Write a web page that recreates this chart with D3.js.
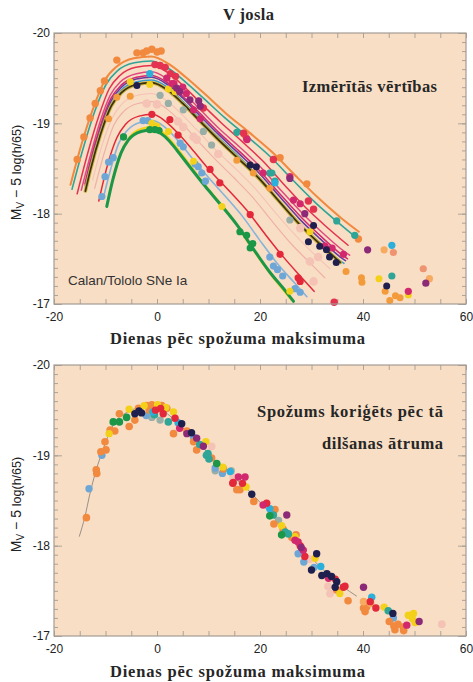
<!DOCTYPE html>
<html>
<head>
<meta charset="utf-8">
<script src="https://cdn.jsdelivr.net/npm/d3@7"></script>
<style>
  body { margin: 0; background: #ffffff; }
  svg { display: block; }
</style>
</head>
<body>
<svg id="chart" width="473" height="682"></svg>
<script>
// ---------------- axis values ----------------
const dayTicks = [-20, 0, 20, 40, 60];
const magTicks = [-20, -19, -18, -17];

// ---------------- template light curve (lower panel) ----------------
const templateDays = [-15.1, -14, -13, -12, -11, -10, -9, -8, -6, -4, -2, 0, 2, 4, 6, 8, 10, 12, 14, 16, 18, 20, 22, 24, 26, 28, 30, 32, 34, 36, 38.8];
const templateMags = [-18.10, -18.32, -18.58, -18.80, -18.98, -19.14, -19.28, -19.38, -19.47, -19.52, -19.54, -19.53, -19.46, -19.36, -19.25, -19.14, -19.02, -18.91, -18.80, -18.70, -18.60, -18.48, -18.36, -18.22, -18.10, -17.97, -17.86, -17.75, -17.64, -17.55, -17.44];

// ---------------- fitted light curves (upper panel), [day, mag] ----------------
const fitOrange = [[-16.8,-18.32],[-14.6,-18.78],[-12.3,-19.18],[-10.1,-19.48],[-7.8,-19.63],[-4.5,-19.72],[-1.1,-19.74],[2.2,-19.66],[5.6,-19.51],[9.0,-19.34],[13.4,-19.11],[17.9,-18.90],[22.4,-18.68],[26.9,-18.42],[31.4,-18.17],[35.8,-17.95],[39.2,-17.80]];
const fitTeal = [[-16.5,-18.27],[-14.3,-18.73],[-12.1,-19.13],[-9.9,-19.43],[-7.7,-19.58],[-4.4,-19.67],[-1.1,-19.69],[2.2,-19.61],[5.5,-19.46],[8.8,-19.29],[13.2,-19.06],[17.6,-18.85],[22.0,-18.63],[26.4,-18.37],[30.8,-18.12],[35.2,-17.90],[39.0,-17.72]];
const fitCrimson = [[-15.5,-18.22],[-13.4,-18.68],[-11.3,-19.08],[-9.3,-19.38],[-7.2,-19.53],[-4.1,-19.62],[-1.0,-19.64],[2.1,-19.56],[5.2,-19.41],[8.2,-19.24],[12.4,-19.01],[16.5,-18.80],[20.6,-18.58],[24.7,-18.32],[28.8,-18.07],[33.0,-17.85],[37.1,-17.65]];
const fitRose = [[-14.7,-18.26],[-13.1,-18.61],[-11.1,-19.01],[-9.1,-19.31],[-7.1,-19.46],[-4.0,-19.55],[-1.0,-19.57],[2.0,-19.49],[5.1,-19.34],[8.1,-19.17],[12.1,-18.94],[16.2,-18.73],[20.2,-18.51],[24.2,-18.25],[28.3,-18.00],[32.3,-17.78],[36.4,-17.58],[37.4,-17.54]];
const fitMagenta = [[-14.0,-18.33],[-13.0,-18.57],[-11.0,-18.97],[-9.0,-19.27],[-7.0,-19.42],[-4.0,-19.51],[-1.0,-19.53],[2.0,-19.45],[5.0,-19.30],[8.0,-19.13],[12.0,-18.90],[16.0,-18.69],[20.0,-18.47],[24.0,-18.21],[28.0,-17.96],[32.0,-17.74],[36.0,-17.54],[37.0,-17.50]];
const fitPurple = [[-13.9,-18.31],[-12.9,-18.55],[-10.9,-18.95],[-8.9,-19.25],[-6.9,-19.40],[-4.0,-19.49],[-1.0,-19.51],[2.0,-19.43],[5.0,-19.28],[7.9,-19.11],[11.9,-18.88],[15.8,-18.67],[19.8,-18.45],[23.8,-18.19],[27.7,-17.94],[31.7,-17.72],[35.6,-17.52],[36.6,-17.48]];
const fitBlue = [[-13.2,-18.40],[-12.7,-18.52],[-10.8,-18.92],[-8.8,-19.22],[-6.9,-19.37],[-3.9,-19.46],[-1.0,-19.48],[2.0,-19.40],[4.9,-19.25],[7.8,-19.08],[11.8,-18.85],[15.7,-18.64],[19.6,-18.42],[23.5,-18.16],[27.4,-17.91],[31.4,-17.69],[35.3,-17.49],[36.3,-17.45]];
const fitDark = [[-13.9,-18.25],[-12.9,-18.49],[-10.9,-18.89],[-8.9,-19.19],[-6.9,-19.34],[-4.0,-19.43],[-1.0,-19.45],[2.0,-19.37],[5.0,-19.22],[7.9,-19.05],[11.9,-18.82],[15.8,-18.61],[19.8,-18.39],[23.8,-18.13],[27.7,-17.88],[31.7,-17.66],[35.6,-17.46]];
const fitPale = [[-12.5,-18.37],[-10.6,-18.77],[-8.6,-19.07],[-6.7,-19.22],[-3.8,-19.31],[-1.0,-19.33],[1.9,-19.25],[4.8,-19.10],[7.7,-18.93],[11.5,-18.70],[15.4,-18.49],[19.2,-18.27],[23.0,-18.01],[26.9,-17.76],[30.7,-17.54],[33.6,-17.39]];
const fitPink = [[-12.1,-18.28],[-10.2,-18.68],[-8.4,-18.98],[-6.5,-19.13],[-3.7,-19.22],[-0.9,-19.24],[1.9,-19.16],[4.7,-19.01],[7.4,-18.84],[11.2,-18.61],[14.9,-18.40],[18.6,-18.18],[22.3,-17.92],[26.0,-17.67],[29.8,-17.45],[32.6,-17.29]];
const fitRed = [[-11.3,-18.14],[-9.6,-18.54],[-7.8,-18.84],[-6.1,-18.99],[-3.5,-19.08],[-0.9,-19.10],[1.7,-19.02],[4.4,-18.87],[7.0,-18.70],[10.4,-18.47],[13.9,-18.26],[17.4,-18.04],[20.9,-17.78],[24.4,-17.53],[27.8,-17.31],[30.5,-17.14]];
const fitLightBlue = [[-10.4,-18.18],[-9.1,-18.47],[-7.5,-18.77],[-5.8,-18.92],[-3.3,-19.01],[-0.8,-19.03],[1.7,-18.95],[4.2,-18.80],[6.6,-18.63],[10.0,-18.40],[13.3,-18.19],[16.6,-17.97],[19.9,-17.71],[23.2,-17.46],[26.6,-17.24],[29.1,-17.08]];
const fitYellow = [[-8.4,-18.40],[-6.8,-18.70],[-5.3,-18.85],[-3.0,-18.94],[-0.8,-18.96],[1.5,-18.88],[3.8,-18.73],[6.1,-18.56],[9.1,-18.33],[12.2,-18.12],[15.2,-17.90],[18.2,-17.64],[21.3,-17.39],[24.3,-17.17],[26.2,-17.04]];
const fitGreen = [[-9.75,-18.08],[-8.6,-18.37],[-7.0,-18.67],[-5.5,-18.82],[-3.1,-18.91],[-0.8,-18.93],[1.6,-18.85],[3.9,-18.70],[6.2,-18.53],[9.4,-18.30],[12.5,-18.09],[15.6,-17.87],[18.7,-17.61],[21.8,-17.36],[25.0,-17.14],[26.5,-17.03]];

// ---------------- observations, upper panel (measured) ----------------
const topOrange = [[-15.5,-18.60],[-14.2,-18.85],[-13.0,-19.06],[-12.0,-19.22],[-11.0,-19.36],[-10.2,-19.47],[-7.8,-19.70],[-3.9,-19.78],[-2.7,-19.78],[-2.0,-19.80],[-1.0,-19.82],[0.0,-19.79],[0.8,-19.80],[17.1,-18.87],[23.9,-18.62],[29.1,-18.33],[39.1,-17.72]];
const topGold = [[-7.8,-19.29],[-5.2,-19.30],[-9.4,-19.05],[15.5,-18.59],[18.7,-18.45],[21.9,-18.28],[36.7,-17.36],[39.7,-17.29],[39.8,-17.24],[44.3,-17.14],[45.2,-17.04],[46.3,-17.09],[47.2,-17.07]];
const topLtOrange = [[44.1,-17.60],[52.9,-17.28]];
const topSalmon = [[45.9,-17.57],[51.7,-17.39]];
const topTeal = [[15.5,-18.90],[21.9,-18.45],[22.3,-18.45],[22.9,-18.36],[34.9,-17.92],[38.4,-17.76],[45.6,-17.31]];
const topCrimson = [[-0.4,-19.65],[0.6,-19.64],[1.6,-19.62],[2.6,-19.55],[3.6,-19.52],[9.0,-19.17],[16.8,-18.89],[17.4,-18.83],[22.6,-18.60],[29.4,-18.14],[30.4,-18.05],[34.4,-17.02]];
const topMagenta = [[1.9,-19.50],[2.9,-19.44],[3.3,-19.44],[4.3,-19.37],[5.0,-19.40],[5.7,-19.33],[7.1,-19.15],[8.4,-19.05],[17.5,-18.82],[20.6,-18.45],[25.8,-18.41],[26.5,-18.15],[27.8,-18.11],[32.6,-17.64],[34.0,-17.62],[36.2,-17.55],[48.8,-17.14]];
const topPurple = [[3.8,-19.39],[4.4,-19.35],[6.4,-19.26],[8.1,-19.25],[8.4,-19.19],[25.8,-18.39],[28.7,-18.00],[40.9,-17.60],[52.2,-17.23]];
const topCyan = [[-1.4,-19.55],[22.9,-18.34],[45.6,-17.65]];
const topNavy = [[-3.9,-19.42],[18.1,-18.54],[19.3,-18.52],[30.4,-17.87],[29.4,-17.69],[31.6,-17.64],[32.9,-17.60],[33.5,-17.52],[34.8,-17.46],[44.6,-17.20]];
const topYellow = [[-5.2,-19.46],[-1.4,-19.43],[2.2,-19.38],[3.5,-19.35],[29.7,-17.80],[43.1,-17.28],[48.8,-17.10],[-1.0,-19.00],[0.0,-18.97],[2.2,-18.91],[7.1,-18.58],[12.6,-18.08],[25.8,-17.14]];
const topGray = [[0.6,-19.31],[2.2,-19.22],[5.1,-19.15],[9.0,-18.91],[10.6,-18.76],[25.8,-17.93]];
const topPale = [[-2.0,-19.22],[0.0,-19.21],[4.1,-19.02],[5.1,-18.96],[7.1,-18.85],[7.7,-18.82],[11.9,-18.66],[27.8,-17.84],[29.7,-17.47],[31.3,-17.52],[30.4,-17.25]];
const topRed = [[-1.0,-19.10],[2.5,-19.04],[4.1,-18.87],[10.3,-18.49],[12.2,-18.34],[18.1,-17.99],[23.9,-17.55],[27.4,-17.29],[27.8,-17.25]];
const topLightBlue = [[-10.7,-18.19],[-10.1,-18.41],[-9.4,-18.57],[-8.5,-18.62],[-6.5,-18.85],[-2.7,-19.03],[-1.8,-19.03],[4.5,-18.78],[5.1,-18.74],[7.4,-18.55],[8.0,-18.52],[8.7,-18.45],[9.4,-18.36],[21.9,-17.52],[22.6,-17.42],[23.4,-17.38],[24.4,-17.31],[26.8,-17.17],[27.8,-17.13]];
const topGreen = [[-6.5,-18.85],[-1.4,-18.93],[-0.4,-18.93],[0.4,-18.92],[16.1,-17.80],[17.4,-17.76],[18.1,-17.62],[18.6,-17.67]];

// ---------------- observations, lower panel (decline-rate corrected) ----------------
const botOrange = [[-13.7,-18.31],[-11.8,-18.84],[-11.7,-18.80],[-10.9,-19.04],[-10.1,-19.15],[-9.9,-19.06],[-9.1,-19.28],[-8.2,-19.27],[-7.3,-19.46],[-5.4,-19.32],[-4.3,-19.39],[-3.6,-19.52],[-2.0,-19.55],[-1.5,-19.50],[-1.0,-19.56],[-0.5,-19.53],[0.5,-19.52],[0.9,-19.55],[1.9,-19.52],[3.2,-19.24],[5.8,-19.27],[7.1,-19.15],[7.7,-19.06],[10.6,-18.97],[12.9,-18.85],[15.5,-18.62],[16.1,-18.62],[18.8,-18.49],[22.9,-18.40],[22.7,-18.24],[24.5,-18.18],[26.2,-18.09],[27.0,-18.12],[34.9,-17.51],[37.1,-17.39],[40.1,-17.31],[40.4,-17.27],[40.7,-17.32],[45.1,-17.16],[46.0,-17.11],[46.8,-17.13],[46.2,-17.07],[47.8,-17.10],[47.9,-17.06]];
const botLtOrange = [[40.1,-17.38],[41.5,-17.36]];
const botYellow = [[-9.3,-19.24],[-5.4,-19.51],[-2.5,-19.55],[0.1,-19.56],[1.7,-19.53],[3.2,-19.48],[9.5,-19.15],[12.8,-18.87],[17.3,-18.65],[24.2,-18.22],[26.8,-18.10],[30.7,-17.86],[35.5,-17.47],[44.1,-17.32],[48.8,-17.23],[49.8,-17.25],[49.6,-17.19],[50.1,-17.15]];
const botGreen = [[-8.5,-19.37],[-7.3,-19.37],[-5.9,-19.42],[11.6,-18.91],[21.9,-18.33],[24.2,-18.12]];
const botNavy = [[-4.3,-19.46],[-3.5,-19.49],[-3.0,-19.47],[4.8,-19.35],[6.7,-19.25],[18.4,-18.57],[31.0,-17.91],[30.0,-17.73],[32.0,-17.67],[33.0,-17.69],[33.9,-17.66],[34.9,-17.60],[34.6,-17.54],[45.8,-17.25]];
const botBlue = [[-13.2,-18.63],[-10.7,-19.00],[-2.1,-19.44],[7.1,-19.20],[11.3,-18.86],[12.7,-18.80],[22.3,-18.38],[27.4,-17.91],[28.5,-17.82],[30.5,-17.76],[45.9,-17.20]];
const botCyan = [[-0.8,-19.48],[4.1,-19.36],[14.2,-18.82],[21.9,-18.41],[31.8,-17.77],[41.7,-17.43]];
const botTeal = [[-0.5,-19.45],[2.2,-19.37],[8.3,-19.12],[9.6,-19.00],[10.1,-18.96],[9.9,-19.02],[22.6,-18.34],[24.9,-18.15],[25.5,-18.13],[44.9,-17.28]];
const botMagenta = [[4.4,-19.30],[15.8,-18.76],[17.1,-18.76],[20.6,-18.45],[26.8,-18.06],[27.4,-18.04],[28.4,-17.95],[33.3,-17.64],[48.5,-17.12]];
const botPurple = [[5.8,-19.24],[7.7,-19.19],[9.0,-19.10],[25.2,-18.34],[28.0,-17.98],[40.1,-17.54],[50.9,-17.16]];
const botRed = [[-0.3,-19.50],[0.7,-19.52],[1.2,-19.46],[3.5,-19.41],[14.7,-18.69],[16.6,-18.69],[14.8,-18.70],[21.3,-18.47],[27.8,-18.00],[28.7,-17.88],[34.6,-17.63],[36.2,-17.54],[36.5,-17.55],[41.4,-17.38],[42.5,-17.31]];
const botPale = [[10.6,-19.10],[14.8,-18.76],[29.6,-17.85],[33.2,-17.55],[33.6,-17.47],[55.3,-17.13]];
const botGray = [[-1.0,-19.42],[0.6,-19.39],[11.3,-18.83],[14.4,-18.83],[23.6,-18.28]];

// ---------------- styling ----------------
const palette = {
  orange: "#f1893f", gold: "#f39a3b", ltorange: "#f6ab60", salmon: "#ee9470",
  teal: "#2ea597", cyan: "#2bb0dc", blue: "#6ea6d6", ltblue: "#86b3dc",
  navy: "#1f1f4e", purple: "#8c2a78", magenta: "#d2286e", crimson: "#e33350",
  rose: "#e04a80", red: "#e2283a", pale: "#f5c2b6", pink: "#f0b0a8",
  gray: "#98aea6", yellow: "#f3d11a", green: "#1c9747", indigo: "#6b3c9c",
  dark: "#3a3010", darkEdge: "#c9b13c"
};
const bgColor = "#f8dec4";
const frameColor = "#a49c94";

const fitLayers = [
  [fitPale, palette.pale, 1.1],
  [fitPink, palette.pink, 1.2],
  [fitOrange, palette.orange, 2],
  [fitTeal, palette.teal, 1.6],
  [fitCrimson, palette.crimson, 1.5],
  [fitRose, palette.rose, 1.5],
  [fitMagenta, palette.magenta, 1.5],
  [fitBlue, "#3a9ccc", 1.5],
  [fitPurple, palette.indigo, 1.6],
  [fitDark, palette.darkEdge, 3.6],
  [fitDark, palette.dark, 1.7],
  [fitRed, palette.red, 1.5],
  [fitLightBlue, palette.ltblue, 1.6],
  [fitYellow, palette.yellow, 2.2],
  [fitGreen, palette.green, 3]
];

const topGroups = [
  [topPale, palette.pale, 4.3], [topGray, palette.gray, 3.6], [topLightBlue, palette.blue, 3.6],
  [topGold, palette.gold, 3.5], [topLtOrange, palette.ltorange, 3.6], [topSalmon, palette.salmon, 3.6],
  [topOrange, palette.orange, 3.7], [topTeal, palette.teal, 3.6], [topCyan, palette.cyan, 3.6],
  [topYellow, palette.yellow, 3.5], [topRed, palette.red, 3.6], [topCrimson, palette.crimson, 3.7],
  [topMagenta, palette.magenta, 3.6], [topPurple, palette.purple, 3.6], [topNavy, palette.navy, 3.5],
  [topGreen, palette.green, 3.6]
];

const botGroups = [
  [botPale, palette.pale, 3.9], [botGray, palette.gray, 3.7], [botBlue, palette.blue, 3.7],
  [botOrange, palette.orange, 3.8], [botLtOrange, palette.ltorange, 3.8], [botYellow, palette.yellow, 3.7],
  [botTeal, palette.teal, 3.8], [botCyan, palette.cyan, 3.7], [botGreen, palette.green, 3.8],
  [botRed, palette.red, 3.7], [botMagenta, palette.magenta, 3.7], [botPurple, palette.purple, 3.7],
  [botNavy, palette.navy, 3.7]
];

// ---------------- drawing ----------------
const svg = d3.select("#chart");
const x = d3.scaleLinear().domain([-20, 60]).range([54, 466]);
const serif = "'Liberation Serif', 'Times New Roman', serif";
const sans = "'Liberation Sans', Arial, Helvetica, sans-serif";

// bold serif caption, stretched to the given width
function caption(parent, tx, ty, anchor, width, str) {
  return parent.append("text").attr("x", tx).attr("y", ty).attr("text-anchor", anchor)
    .attr("font-family", serif).attr("font-weight", "bold").attr("font-size", 16.5)
    .attr("fill", "#262626").attr("textLength", width).attr("lengthAdjust", "spacing")
    .text(str);
}

function drawPanel(top, bottom, groupsDraw) {
  const y = d3.scaleLinear().domain([-20, -17]).range([top, bottom]);
  const g = svg.append("g");
  g.append("rect").attr("x", 54).attr("y", top).attr("width", 412).attr("height", bottom - top).attr("fill", bgColor);

  const minorDays = d3.range(-20, 61, 5);
  const minorMags = d3.range(0, 31).map(i => -20 + i / 10);
  const tickStyle = sel => {
    sel.select(".domain").remove();
    sel.selectAll(".tick line").attr("stroke", frameColor).attr("stroke-width", 0.9);
  };
  g.append("g").attr("transform", `translate(0,${bottom})`)
    .call(d3.axisBottom(x).tickValues(minorDays).tickSize(-5).tickFormat("")).call(tickStyle);
  g.append("g").attr("transform", `translate(0,${top})`)
    .call(d3.axisTop(x).tickValues(minorDays).tickSize(-5).tickFormat("")).call(tickStyle);
  g.append("g").attr("transform", "translate(54,0)")
    .call(d3.axisLeft(y).tickValues(minorMags).tickSize(-4).tickFormat("")).call(tickStyle);
  g.append("g").attr("transform", "translate(466,0)")
    .call(d3.axisRight(y).tickValues(minorMags).tickSize(-4).tickFormat("")).call(tickStyle);
  g.append("g").attr("transform", "translate(54,0)")
    .call(d3.axisLeft(y).tickValues(magTicks).tickSize(-8).tickFormat("")).call(tickStyle);
  g.append("g").attr("transform", "translate(466,0)")
    .call(d3.axisRight(y).tickValues(magTicks).tickSize(-8).tickFormat("")).call(tickStyle);

  // tick labels
  const labStyle = sel => {
    sel.select(".domain").remove();
    sel.selectAll("text").attr("font-family", sans).attr("font-size", 12).attr("fill", "#222");
  };
  g.append("g").attr("transform", `translate(0,${bottom})`)
    .call(d3.axisBottom(x).tickValues(dayTicks).tickSize(0).tickPadding(8).tickFormat(d => String(d))).call(labStyle);
  g.append("g").attr("transform", "translate(54,0)")
    .call(d3.axisLeft(y).tickValues(magTicks).tickSize(0).tickPadding(4).tickFormat(d => String(d))).call(labStyle);

  const plot = g.append("g");
  groupsDraw(plot, y);

  g.append("rect").attr("x", 54).attr("y", top).attr("width", 412).attr("height", bottom - top)
    .attr("fill", "none").attr("stroke", frameColor).attr("stroke-width", 1.2);

  // y axis title
  const cy = (top + bottom) / 2 + 4;
  const t = g.append("text").attr("transform", `translate(21,${cy}) rotate(-90)`)
    .attr("text-anchor", "middle").attr("font-family", sans).attr("font-size", 14).attr("fill", "#222");
  t.append("tspan").text("M");
  t.append("tspan").attr("font-size", 10).attr("dy", 3).text("V");
  t.append("tspan").attr("dy", -3).text(" \u2212 5 ");
  t.append("tspan").attr("font-size", 12.5).text("log(h/65)");

  return y;
}

function dots(plot, y, groups) {
  groups.forEach(([pts, color, r]) => {
    plot.append("g").selectAll("circle").data(pts).join("circle")
      .attr("cx", d => x(d[0])).attr("cy", d => y(d[1])).attr("r", r).attr("fill", color);
  });
}

// upper panel: measured light curves
drawPanel(33, 304, (plot, y) => {
  const line = d3.line().x(d => x(d[0])).y(d => y(d[1])).curve(d3.curveMonotoneX);
  fitLayers.forEach(([pts, color, w]) => {
    plot.append("path").attr("d", line(pts)).attr("fill", "none")
      .attr("stroke", color).attr("stroke-width", w).attr("stroke-linecap", "round");
  });
  dots(plot, y, topGroups);
  plot.append("text").attr("x", 68).attr("y", 285).attr("font-family", sans)
    .attr("font-size", 13.5).attr("fill", "#333").text("Calan/Tololo SNe Ia");
  caption(plot, 302, 92, "start", 135, "Izmērītās vērtības");
});

// lower panel: decline-rate corrected
drawPanel(365, 636, (plot, y) => {
  const line = d3.line().x((d, i) => x(templateDays[i])).y(d => y(d)).curve(d3.curveMonotoneX);
  plot.append("path").attr("d", line(templateMags)).attr("fill", "none")
    .attr("stroke", "#8f8880").attr("stroke-width", 0.9);
  dots(plot, y, botGroups);
  caption(plot, 257, 417, "start", 186, "Spožums koriģēts pēc tā");
  caption(plot, 322, 449, "start", 121, "dilšanas ātruma");
});

// titles
caption(svg, 223, 20, "start", 51, "V josla");
[344, 677].forEach(yy => caption(svg, 110, yy, "start", 255, "Dienas pēc spožuma maksimuma"));
</script>
</body>
</html>
